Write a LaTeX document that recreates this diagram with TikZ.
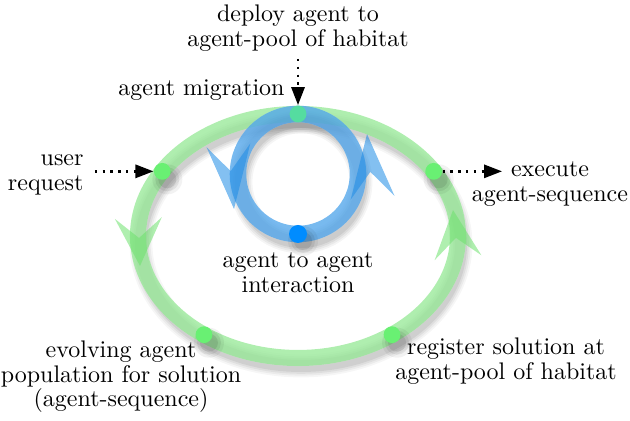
\documentclass[tikz,border=0pt]{standalone}
\usetikzlibrary{arrows.meta}
\definecolor{gring}{RGB}{110,225,110}
\definecolor{gdot}{RGB}{105,240,115}
\definecolor{bring}{RGB}{30,140,230}
\definecolor{bdot}{RGB}{0,140,255}
\definecolor{tdot}{RGB}{85,220,160}
\tikzset{
  lbl/.style={inner sep=0pt, align=center, font=\fontsize{10}{10.4}\selectfont},
  dotarrow/.style={line width=1pt, dash pattern=on 1pt off 2.25pt, -{Triangle[length=7.5pt,width=5.5pt]}},
  gdotst/.style={circle, fill=gdot, inner sep=0pt, minimum size=7pt},
  bdotst/.style={circle, fill=bdot, inner sep=0pt, minimum size=7.5pt},
  tdotst/.style={circle, fill=tdot, inner sep=0pt, minimum size=7pt},
  greenring/.style={line width=6.7pt, gring, opacity=0.55},
  bluering/.style={line width=6.9pt, bring, opacity=0.6},
  underlay/.style={white, opacity=0.45},
  pics/bigtip/.style args={#1/#2/#3}{code={\fill (0,0) -- (-#1,#2/2) -- (-#1+#3,0) -- (-#1,-#2/2) -- cycle;}}
}
\begin{document}
\begin{tikzpicture}[x=0.41667pt,y=0.41667pt]
\useasboundingbox (0,0) rectangle (630,421);

% green ring shadow
\foreach \w/\o in {9.5pt/0.035,8pt/0.045,6.5pt/0.055,5pt/0.065}
  \draw[line width=\w, black, opacity=\o] (301,177) ellipse [x radius=160, y radius=122];
% green ring
\draw[underlay, line width=6.7pt] (298,185) ellipse [x radius=160, y radius=122];
\draw[greenring] (298,185) ellipse [x radius=160, y radius=122];
\pic[rotate=-88, fill=gring, opacity=0.55] at (140,155) {bigtip=48/47/20};
\pic[rotate=96, fill=gring, opacity=0.55] at (453,211) {bigtip=48/47/20};

% green dots positions
\coordinate (pT) at ([shift={(298,185)}]90:160 and 122);
\coordinate (pL) at ([shift={(298,185)}]148:160 and 122);
\coordinate (pR) at ([shift={(298,185)}]32:160 and 122);
\coordinate (pBL) at ([shift={(298,185)}]234:160 and 122);
\coordinate (pBR) at ([shift={(298,185)}]306:160 and 122);
\foreach \p in {pL,pR,pBL,pBR}
  \foreach \r/\o in {15/0.05,12/0.07,9/0.09}
    \fill[black, opacity=\o] ([shift={(5,-8)}]\p) circle [radius=\r];
\node[gdotst] (dotL) at (pL) {};
\node[gdotst] (dotR) at (pR) {};
\node[gdotst] (dotBL) at (pBL) {};
\node[gdotst] (dotBR) at (pBR) {};

% blue ring shadow
\foreach \w/\o in {9.5pt/0.04,8pt/0.05,6.5pt/0.06,5pt/0.07}
  \draw[line width=\w, black, opacity=\o] (301,239) circle [radius=60];
% blue ring
\draw[underlay, line width=6.9pt] (298,247) circle [radius=60];
\draw[bluering] (298,247) circle [radius=60];
\pic[rotate=-85, fill=bring, opacity=0.55] at (234,212) {bigtip=64/44/26};
\pic[rotate=95, fill=bring, opacity=0.55] at (367,287) {bigtip=64/44/26};

\foreach \r/\o in {15/0.05,12/0.07,9/0.09}
  \fill[black, opacity=\o] (303,180) circle [radius=\r];
\node[bdotst] (dotB) at (298,187) {};
\node[tdotst] (dotT) at (pT) {};

% labels
\node[lbl] (deploy) at (298,393) {deploy agent to\\agent-pool of habitat};
\node[lbl, anchor=base east] (migr) at (285,325) {agent migration};
\node[lbl, align=right, anchor=east] (user) at (84,246.3) {user\\request};
\node[lbl] (exec) at (550,236.6) {execute\\agent-sequence};
\node[lbl] (a2a) at (298,148) {agent to agent\\interaction};
\node[lbl] (evolve) at (121,44.3) {evolving agent\\population for solution\\(agent-sequence)};
\node[lbl] (register) at (506,59.5) {register solution at\\agent-pool of habitat};

% connectors
\coordinate (exTip) at (502,249.6);
\draw[dotarrow, shorten <=3pt] (deploy) -- (dotT);
\draw[dotarrow, shorten <=4.5pt] (dotL -| user.east) -- (dotL);
\draw[dotarrow] (dotR) -- (dotR -| exTip);
\end{tikzpicture}
\end{document}
